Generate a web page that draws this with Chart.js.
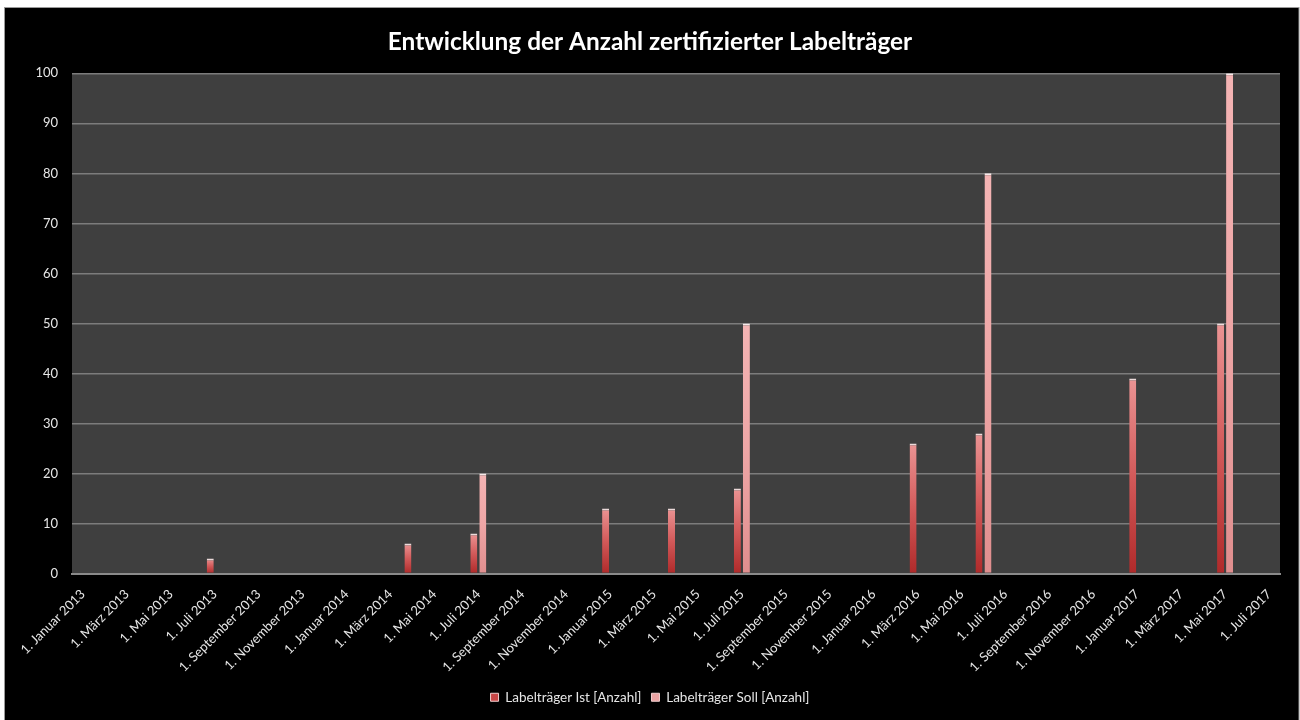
<!DOCTYPE html>
<html>
<head>
<meta charset="utf-8">
<script src="https://cdn.jsdelivr.net/npm/chart.js@4/dist/chart.umd.min.js"></script>
<style>
  html, body { margin: 0; padding: 0; background: #ffffff; }
  #wrap { position: absolute; left: 0; top: 0; width: 1300px; height: 720px; }
</style>
</head>
<body>
<div id="wrap"><canvas id="c" width="1300" height="720"></canvas></div>
<script>
// ---- Data ----
const monthNames = ['Januar','Februar','März','April','Mai','Juni','Juli','August','September','Oktober','November','Dezember'];
const firstYear = 2013, firstMonth = 0;   // 1. Januar 2013
const monthCount = 55;                    // through 1. Juli 2017

const istDates  = ['2013-07','2014-04','2014-07','2015-01','2015-04','2015-07','2016-03','2016-06','2017-01','2017-05'];
const istValues = [3, 6, 8, 13, 13, 17, 26, 28, 39, 50];

const sollDates  = ['2014-07','2015-07','2016-06','2017-05'];
const sollValues = [20, 50, 80, 100];

const seriesNames = ['Labelträger Ist [Anzahl]', 'Labelträger Soll [Anzahl]'];
const titleText = 'Entwicklung der Anzahl zertifizierter Labelträger';

// ---- Build category table ----
const categoryKeys = [];
const categoryLabels = [];
for (let i = 0; i < monthCount; i++) {
  const m = (firstMonth + i) % 12;
  const y = firstYear + Math.floor((firstMonth + i) / 12);
  categoryKeys.push(y + '-' + String(m + 1).padStart(2, '0'));
  categoryLabels.push('1. ' + monthNames[m] + ' ' + y);
}
function toSeries(dates, values) {
  return categoryKeys.map(k => {
    const idx = dates.indexOf(k);
    return idx >= 0 ? values[idx] : null;
  });
}
const istSeries = toSeries(istDates, istValues);
const sollSeries = toSeries(sollDates, sollValues);

const FONT = 'Lato, "Open Sans", sans-serif';

function barGradient(bottomColor, midColor, topColor) {
  return function(ctx) {
    const chart = ctx.chart;
    if (!chart.chartArea || ctx.type !== 'data' || ctx.parsed == null) return midColor;
    const ys = chart.scales.y;
    const top = ys.getPixelForValue(ctx.parsed.y);
    const bottom = ys.getPixelForValue(0);
    if (!isFinite(top) || Math.abs(bottom - top) < 1) return midColor;
    const g = chart.ctx.createLinearGradient(0, bottom, 0, top);
    g.addColorStop(0, bottomColor);
    g.addColorStop(0.5, midColor);
    g.addColorStop(1, topColor);
    return g;
  };
}

const framePlugin = {
  id: 'frame',
  beforeDraw(chart) {
    const c = chart.ctx;
    c.save();
    c.fillStyle = '#ffffff';
    c.fillRect(0, 0, chart.width, chart.height);
    c.fillStyle = '#000000';
    c.fillRect(4, 7, chart.width - 5, chart.height - 7);
    c.strokeStyle = '#9a9a9a';
    c.lineWidth = 1;
    c.strokeRect(4.5, 7.5, chart.width - 5.5, chart.height - 6);
    const a = chart.chartArea;
    c.fillStyle = '#3f3f3f';
    c.fillRect(a.left, a.top, a.right - a.left, a.bottom - a.top);
    c.restore();
  }
};

new Chart(document.getElementById('c'), {
  type: 'bar',
  data: {
    labels: categoryLabels,
    datasets: [
      {
        label: seriesNames[0],
        data: istSeries,
        yAxisID: 'y',
        backgroundColor: barGradient('#b02a2a', '#d25a5a', '#eb9494'),
        borderColor: 'rgba(255,235,235,0.9)',
        borderWidth: { top: 2, left: 0, right: 0, bottom: 0 },
        borderSkipped: 'bottom',
        categoryPercentage: 0.82,
        barPercentage: 0.78
      },
      {
        label: seriesNames[1],
        data: sollSeries,
        yAxisID: 'y',
        backgroundColor: barGradient('#e08e8e', '#eea6a6', '#f4b4b4'),
        borderColor: 'rgba(255,240,240,0.95)',
        borderWidth: { top: 2, left: 0, right: 0, bottom: 0 },
        borderSkipped: 'bottom',
        categoryPercentage: 0.82,
        barPercentage: 0.78
      }
    ]
  },
  options: {
    responsive: false,
    animation: false,
    devicePixelRatio: 1,
    layout: { padding: { top: 7, left: 4, right: 4, bottom: 6 } },
    plugins: {
      title: {
        display: true,
        text: titleText,
        color: '#ffffff',
        font: { family: FONT, size: 24.4, weight: 'bold' },
        padding: { top: 21, bottom: 16 }
      },
      legend: {
        position: 'bottom',
        labels: {
          color: '#e6e6e6',
          font: { family: FONT, size: 13.5 },
          boxWidth: 8,
          boxHeight: 8,
          padding: 10,
          generateLabels(chart) {
            const fills = ['#c84646', '#eaa2a2'];
            return chart.data.datasets.map((ds, i) => ({
              text: ds.label,
              fillStyle: fills[i],
              strokeStyle: '#f2d0d0',
              lineWidth: 1,
              fontColor: '#e6e6e6',
              datasetIndex: i,
              hidden: false
            }));
          }
        }
      },
      tooltip: { enabled: false }
    },
    scales: {
      x: {
        grid: { display: false, drawTicks: false },
        border: { display: true, color: '#8a8a8a', width: 2 },
        ticks: {
          color: '#e6e6e6',
          font: { family: FONT, size: 13 },
          autoSkip: false,
          maxRotation: 45,
          minRotation: 45,
          padding: 13,
          callback: function(value, index) {
            return index % 2 === 0 ? this.getLabelForValue(value) : '';
          }
        },
        afterFit(scale) { scale.height = 107; }
      },
      y: {
        min: 0,
        max: 100,
        ticks: {
          stepSize: 10,
          color: '#e6e6e6',
          font: { family: FONT, size: 13 },
          padding: 14
        },
        grid: { color: '#7c7c7c', lineWidth: 1.5, drawTicks: false },
        border: { display: false },
        afterFit(scale) { scale.width = 68; }
      },
      yRight: {
        axis: 'y',
        position: 'right',
        min: 0,
        max: 100,
        ticks: { display: false },
        grid: { display: false, drawTicks: false },
        border: { display: false },
        afterFit(scale) { scale.width = 16; }
      }
    }
  },
  plugins: [framePlugin]
});
</script>
</body>
</html>
